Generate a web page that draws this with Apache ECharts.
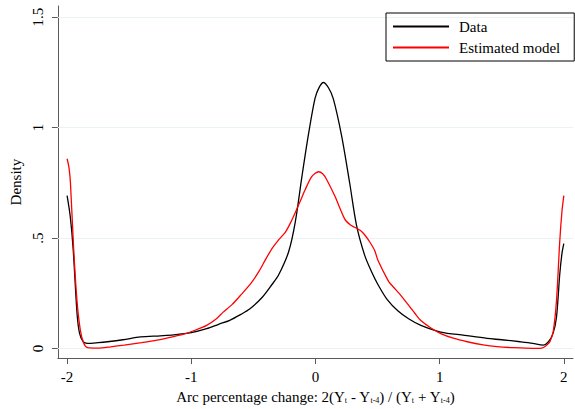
<!DOCTYPE html>
<html>
<head>
<meta charset="utf-8">
<script src="https://cdn.jsdelivr.net/npm/echarts@6/dist/echarts.min.js"></script>
<style>html,body{margin:0;padding:0;background:#fff}#c{width:575px;height:409px}</style>
</head>
<body>
<div id="c"></div>
<script>
// Data (empirical density)
const dataX = [-2.0,-1.975,-1.951,-1.92,-1.90,-1.87,-1.835,-1.75,-1.675,-1.55,-1.409,-1.25,-1.142,-1.0,-0.876,-0.78,-0.69,-0.6,-0.53,-0.43,-0.35,-0.296,-0.216,-0.163,-0.109,-0.056,-0.003,0.03,0.064,0.105,0.144,0.21,0.276,0.33,0.396,0.45,0.503,0.58,0.663,0.75,0.849,1.009,1.2,1.382,1.5,1.648,1.75,1.834,1.875,1.914,1.941,1.967,1.985,2.0];
const dataY = [0.692,0.60,0.45,0.16,0.07,0.03,0.024,0.027,0.031,0.04,0.053,0.058,0.062,0.072,0.09,0.11,0.128,0.155,0.179,0.231,0.29,0.334,0.438,0.571,0.778,0.970,1.133,1.182,1.204,1.18,1.13,0.965,0.748,0.56,0.423,0.35,0.29,0.22,0.171,0.135,0.105,0.075,0.06,0.046,0.04,0.031,0.024,0.016,0.03,0.07,0.142,0.334,0.43,0.475];
// Estimated model density
const modelX = [-2.0,-1.985,-1.973,-1.947,-1.92,-1.893,-1.866,-1.835,-1.75,-1.65,-1.54,-1.4,-1.276,-1.162,-1.062,-0.97,-0.876,-0.808,-0.743,-0.67,-0.597,-0.52,-0.455,-0.4,-0.349,-0.3,-0.243,-0.2,-0.163,-0.12,-0.083,-0.03,0.024,0.06,0.09,0.157,0.236,0.28,0.316,0.36,0.396,0.44,0.476,0.503,0.583,0.609,0.689,0.743,0.8,0.849,0.93,1.009,1.11,1.222,1.35,1.462,1.6,1.75,1.808,1.84,1.861,1.887,1.914,1.941,1.967,1.985,2.0];
const modelY = [0.859,0.82,0.75,0.45,0.215,0.083,0.024,0.004,0.002,0.008,0.016,0.027,0.038,0.052,0.065,0.083,0.105,0.13,0.165,0.2,0.245,0.295,0.349,0.405,0.453,0.49,0.526,0.57,0.615,0.67,0.719,0.778,0.800,0.79,0.765,0.689,0.586,0.56,0.549,0.535,0.515,0.48,0.445,0.40,0.31,0.29,0.24,0.201,0.16,0.127,0.093,0.068,0.047,0.031,0.017,0.009,0.004,0.001,0.001,0.006,0.015,0.03,0.075,0.216,0.482,0.62,0.692];
const xTicks = [-2,-1,0,1,2];
const yTicks = [0,0.5,1,1.5];
const yTickLabels = ['0','.5','1','1.5'];
const seriesNames = ['Data','Estimated model'];

const FONT = 'Liberation Serif';
const zip = (xs, ys) => xs.map((x, i) => [x, ys[i]]);

const chart = echarts.init(document.getElementById('c'), null, {renderer: 'svg'});
chart.setOption({
  animation: false,
  backgroundColor: '#ffffff',
  grid: {left: 54, right: 2, top: 6, bottom: 44},
  legend: {
    left: 386, top: 13,
    orient: 'vertical',
    padding: [6, 14, 6, 6],
    itemWidth: 56, itemHeight: 14, itemGap: 6,
    borderColor: '#000', borderWidth: 1,
    itemStyle: {opacity: 0, borderWidth: 0},
    textStyle: {fontFamily: FONT, fontSize: 15, color: '#000', padding: [0, 0, 0, 5]},
    data: seriesNames
  },
  xAxis: {
    type: 'value', min: -2.074, max: 2.074,
    axisLine: {show: true, onZero: false, lineStyle: {color: '#5a5a5a', width: 1}},
    axisTick: {show: true, length: 6, customValues: xTicks, lineStyle: {color: '#5a5a5a'}},
    axisLabel: {customValues: xTicks, margin: 11, color: '#000', fontFamily: FONT, fontSize: 15},
    splitLine: {show: false},
    name: '{a|Arc percentage change: 2(Y}{s|t}{a| - Y}{s|t-4}{a|) / (Y}{s|t}{a| + Y}{s|t-4}{a|)}',
    nameLocation: 'middle', nameGap: 30,
    nameTextStyle: {
      rich: {
        a: {fontFamily: FONT, fontSize: 15, color: '#000'},
        s: {fontFamily: FONT, fontSize: 8, color: '#000', verticalAlign: 'bottom', padding: [6, 0, 0, 0]}
      }
    }
  },
  yAxis: {
    type: 'value', min: -0.043, max: 1.55,
    axisLine: {show: true, onZero: false, lineStyle: {color: '#5a5a5a', width: 1}},
    axisTick: {show: true, length: 6, customValues: yTicks, lineStyle: {color: '#5a5a5a'}},
    axisLabel: {
      customValues: yTicks, rotate: 90, margin: 12, color: '#000', fontFamily: FONT, fontSize: 15,
      formatter: v => { const i = yTicks.indexOf(v); return i >= 0 ? yTickLabels[i] : ''; }
    },
    splitLine: {show: false},
    name: 'Density', nameLocation: 'middle', nameGap: 22, nameRotate: 90,
    nameTextStyle: {fontFamily: FONT, fontSize: 15, color: '#000'}
  },
  series: [
    {
      name: seriesNames[0], type: 'line', data: zip(dataX, dataY),
      symbol: 'none', smooth: 0.3,
      lineStyle: {color: '#000000', width: 1.3}, itemStyle: {color: '#000000'},
      z: 3,
      markLine: {
        silent: true, symbol: 'none', label: {show: false},
        lineStyle: {color: '#eaf2f3', width: 1, type: 'solid'},
        data: yTicks.map(v => ({yAxis: v})),
        z: 1
      }
    },
    {
      name: seriesNames[1], type: 'line', data: zip(modelX, modelY),
      symbol: 'none', smooth: 0.25,
      lineStyle: {color: '#ff0000', width: 1.3}, itemStyle: {color: '#ff0000'},
      z: 4
    }
  ]
});
</script>
</body>
</html>
